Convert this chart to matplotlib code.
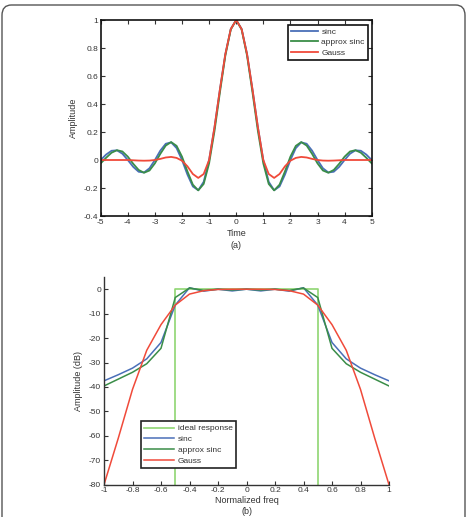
import numpy as np
import matplotlib
matplotlib.use("Agg")
import matplotlib.pyplot as plt
from matplotlib.patches import FancyBboxPatch

plt.rcParams['font.family'] = ['Liberation Sans', 'DejaVu Sans']
plt.rcParams['axes.unicode_minus'] = False

# ---- (a) time domain ----
t = [-5.0, -4.8, -4.6, -4.4, -4.2, -4.0, -3.8, -3.6, -3.4, -3.2, -3.0,
     -2.8, -2.6, -2.4, -2.2, -2.0, -1.8, -1.6, -1.4, -1.2, -1.0,
     -0.8, -0.6, -0.4, -0.2, 0.0, 0.2, 0.4, 0.6, 0.8, 1.0,
     1.2, 1.4, 1.6, 1.8, 2.0, 2.2, 2.4, 2.6, 2.8, 3.0,
     3.2, 3.4, 3.6, 3.8, 4.0, 4.2, 4.4, 4.6, 4.8, 5.0]
sinc_t = [0.0, 0.039, 0.066, 0.069, 0.045, 0.0, -0.049, -0.084, -0.089, -0.059, 0.0,
          0.067, 0.116, 0.126, 0.085, 0.0, -0.104, -0.189, -0.216, -0.156, 0.0,
          0.234, 0.505, 0.757, 0.936, 1.0, 0.936, 0.757, 0.505, 0.234, 0.0,
          -0.156, -0.216, -0.189, -0.104, 0.0, 0.085, 0.126, 0.116, 0.067, 0.0,
          -0.059, -0.089, -0.084, -0.049, 0.0, 0.045, 0.069, 0.066, 0.039, 0.0]
approx_t = [-0.024, 0.016, 0.052, 0.070, 0.061, 0.024, -0.027, -0.071, -0.091, -0.075, -0.024,
            0.044, 0.103, 0.128, 0.101, 0.024, -0.081, -0.176, -0.217, -0.171, -0.024,
            0.208, 0.484, 0.746, 0.932, 1.0, 0.932, 0.746, 0.484, 0.208, -0.024,
            -0.171, -0.217, -0.176, -0.081, 0.024, 0.101, 0.128, 0.103, 0.044, -0.024,
            -0.075, -0.091, -0.071, -0.027, 0.024, 0.061, 0.070, 0.052, 0.016, -0.024]
gauss_t = [0.0, 0.0, 0.0, 0.0, 0.0, 0.0, -0.002, -0.004, -0.005, -0.004, 0.0,
           0.008, 0.018, 0.022, 0.015, -0.005, -0.045, -0.100, -0.128, -0.100, 0.0,
           0.235, 0.505, 0.757, 0.935, 1.0, 0.935, 0.757, 0.505, 0.235, 0.0,
           -0.100, -0.128, -0.100, -0.045, -0.005, 0.015, 0.022, 0.018, 0.008, 0.0,
           -0.004, -0.005, -0.004, -0.002, 0.0, 0.0, 0.0, 0.0, 0.0, 0.0]

# ---- (b) frequency domain (dB) ----
f = [-1.0, -0.9, -0.8, -0.7, -0.6, -0.5, -0.4, -0.3, -0.2, -0.1, 0.0,
     0.1, 0.2, 0.3, 0.4, 0.5, 0.6, 0.7, 0.8, 0.9, 1.0]
sinc_f = [-37.5, -35.0, -32.3, -28.5, -21.8, -6.5, 0.6, -0.8, 0.0, -0.7, 0.0,
          -0.7, 0.0, -0.8, 0.6, -6.5, -21.8, -28.5, -32.3, -35.0, -37.5]
approx_f = [-39.6, -36.8, -34.0, -30.5, -24.2, -3.4, 0.5, -0.5, 0.0, -0.3, 0.0,
            -0.3, 0.0, -0.5, 0.5, -3.4, -24.2, -30.5, -34.0, -36.8, -39.6]
gauss_f = [-80.0, -61.0, -41.0, -25.0, -14.5, -6.5, -2.0, -0.6, -0.1, 0.0, 0.0,
           0.0, -0.1, -0.6, -2.0, -6.5, -14.5, -25.0, -41.0, -61.0, -80.0]
ideal_f = [-0.5, -0.5, 0.5, 0.5]
ideal_db = [-90.0, 0.0, 0.0, -90.0]

c_blue = '#4a6fb8'
c_green = '#3a8d48'
c_red = '#f04a3a'
c_ideal = '#8fd672'
txt = '#333333'

fig = plt.figure(figsize=(4.69, 5.17), dpi=100)

# outer rounded frame
frame = FancyBboxPatch((2 / 469, -0.05), 463 / 469, 512 / 517 + 0.05,
                       boxstyle="round,pad=0,rounding_size=0.02",
                       transform=fig.transFigure, fill=False,
                       edgecolor='#555555', linewidth=1.0)
fig.patches.append(frame)

# top panel
ax1 = fig.add_axes([100.7 / 469, 0.5822, 271 / 469, 196 / 517])
ax1.plot(t, sinc_t, color=c_blue, lw=1.3, label='sinc')
ax1.plot(t, approx_t, color=c_green, lw=1.3, label='approx sinc')
ax1.plot(t, gauss_t, color=c_red, lw=1.3, label='Gauss')
ax1.set_xlim(-5, 5)
ax1.set_ylim(-0.4, 1)
ax1.set_xticks(range(-5, 6))
ax1.set_yticks([-0.4, -0.2, 0, 0.2, 0.4, 0.6, 0.8, 1])
ax1.set_yticklabels(['-0.4', '-0.2', '0', '0.2', '0.4', '0.6', '0.8', '1'])
ax1.tick_params(direction='in', top=True, right=True, labelsize=6, colors=txt,
                length=3, width=0.8, pad=2)
for s in ax1.spines.values():
    s.set_linewidth(1.2)
    s.set_color('#111111')
ax1.set_xlabel('Time\n(a)', fontsize=6.5, color=txt, labelpad=2, linespacing=1.5)
ax1.set_ylabel('Amplitude', fontsize=6.5, color=txt, labelpad=4)
leg1 = ax1.legend(loc='upper right', bbox_to_anchor=(0.987, 0.975), borderaxespad=0,
                  fontsize=6, fancybox=False, framealpha=1, handlelength=3.2,
                  handletextpad=0.4, labelspacing=0.3, borderpad=0.4)
leg1.get_frame().set_edgecolor('#111111')
leg1.get_frame().set_linewidth(1.2)
for tx in leg1.get_texts():
    tx.set_color(txt)

# bottom panel
ax2 = fig.add_axes([104 / 469, 0.0625, 285 / 469, 207.7 / 517])
ax2.plot(ideal_f, ideal_db, color=c_ideal, lw=1.2, label='ideal response')
ax2.plot(f, sinc_f, color=c_blue, lw=1.1, label='sinc')
ax2.plot(f, approx_f, color=c_green, lw=1.1, label='approx sinc')
ax2.plot(f, gauss_f, color=c_red, lw=1.1, label='Gauss')
ax2.set_xlim(-1, 1)
ax2.set_ylim(-80, 5)
ax2.set_xticks(np.round(np.arange(-1, 1.01, 0.2), 1))
ax2.set_xticklabels(['-1', '-0.8', '-0.6', '-0.4', '-0.2', '0',
                     '0.2', '0.4', '0.6', '0.8', '1'])
ax2.set_yticks(range(-80, 1, 10))
ax2.spines['top'].set_visible(False)
ax2.spines['right'].set_visible(False)
for s in ('left', 'bottom'):
    ax2.spines[s].set_linewidth(1.0)
    ax2.spines[s].set_color('#333333')
ax2.tick_params(direction='in', labelsize=6, colors=txt, length=3, width=0.8, pad=2)
ax2.set_xlabel('Normalized freq\n(b)', fontsize=6.5, color=txt, labelpad=1, linespacing=1.3)
ax2.set_ylabel('Amplitude (dB)', fontsize=6.5, color=txt, labelpad=4)
leg2 = ax2.legend(loc='lower left', bbox_to_anchor=(0.13, 0.08), borderaxespad=0,
                  fontsize=6, fancybox=False, framealpha=1, handlelength=3.6,
                  handletextpad=0.4, labelspacing=0.35, borderpad=0.4)
leg2.get_frame().set_edgecolor('#222222')
leg2.get_frame().set_linewidth(1.2)
for tx in leg2.get_texts():
    tx.set_color(txt)

fig.savefig('out.png', dpi=100)
